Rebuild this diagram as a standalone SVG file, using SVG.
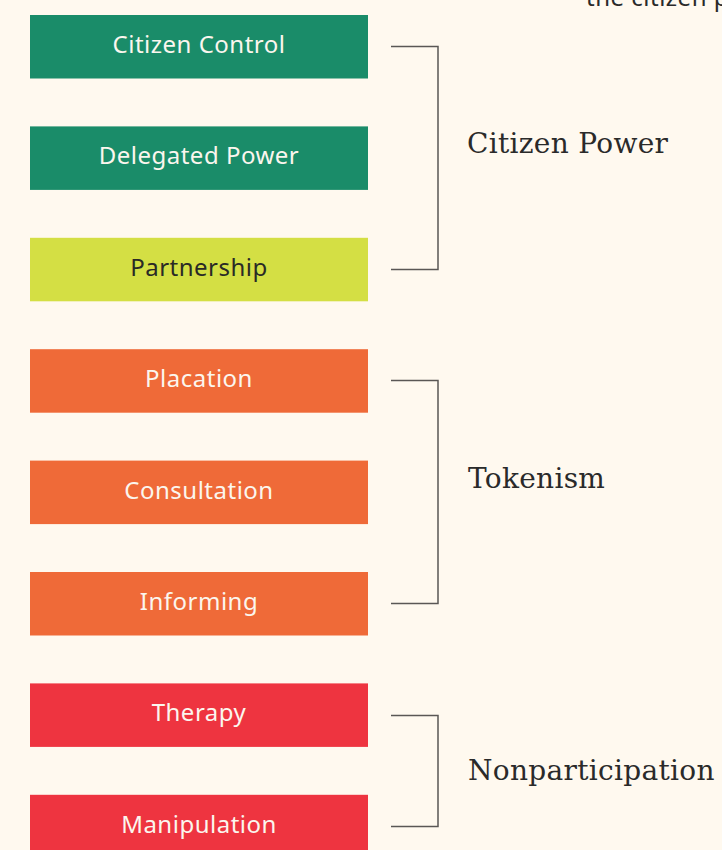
<svg xmlns="http://www.w3.org/2000/svg" width="722" height="850" viewBox="0 0 722 850">
  <style>
    .rung { font-family: "Noto Sans", "Liberation Sans", sans-serif; font-size: 24px; letter-spacing: 0.5px; text-anchor: middle; fill: #fbf6ee; }
    .rung.dark { fill: #2a2a26; }
    .group { font-family: "DejaVu Serif", "Liberation Serif", serif; font-size: 28px; letter-spacing: 0.3px; fill: #2a2a2a; }
    .bracket { fill: none; stroke: #5a5755; stroke-width: 1.5; }
    .lead { font-family: "Noto Sans", "Liberation Sans", sans-serif; font-size: 24px; letter-spacing: 0.5px; fill: #2a2a2a; }
  </style>
  <rect width="722" height="850" fill="#fff9ef"/>

  <!-- sentence running off the top edge -->
  <text class="lead" x="586" y="6">the citizen p</text>

  <!-- ladder rungs, top to bottom -->
  <g id="citizen-control">
    <rect x="30" y="15" width="338" height="63.5" fill="#1a8c69"/>
    <text class="rung" x="199" y="53">Citizen Control</text>
  </g>
  <g id="delegated-power">
    <rect x="30" y="126.4" width="338" height="63.5" fill="#1a8c69"/>
    <text class="rung" x="199" y="164.4">Delegated Power</text>
  </g>
  <g id="partnership">
    <rect x="30" y="237.8" width="338" height="63.5" fill="#d4df44"/>
    <text class="rung dark" x="199" y="275.8">Partnership</text>
  </g>
  <g id="placation">
    <rect x="30" y="349.2" width="338" height="63.5" fill="#ef6a38"/>
    <text class="rung" x="199" y="387.2">Placation</text>
  </g>
  <g id="consultation">
    <rect x="30" y="460.6" width="338" height="63.5" fill="#ef6a38"/>
    <text class="rung" x="199" y="498.6">Consultation</text>
  </g>
  <g id="informing">
    <rect x="30" y="572" width="338" height="63.5" fill="#ef6a38"/>
    <text class="rung" x="199" y="610">Informing</text>
  </g>
  <g id="therapy">
    <rect x="30" y="683.4" width="338" height="63.5" fill="#ee3440"/>
    <text class="rung" x="199" y="721.4">Therapy</text>
  </g>
  <g id="manipulation">
    <rect x="30" y="794.8" width="338" height="63.5" fill="#ee3440"/>
    <text class="rung" x="199" y="832.8">Manipulation</text>
  </g>

  <!-- brackets grouping the rungs -->
  <g id="connectors">
    <path class="bracket" d="M391 46.5 H438 V269.5 H391"/>
    <path class="bracket" d="M391 380.5 H438 V603.5 H391"/>
    <path class="bracket" d="M391 715.5 H438 V826.5 H391"/>
  </g>

  <!-- group labels -->
  <g id="citizen-power">
    <text class="group" x="467" y="153">Citizen Power</text>
  </g>
  <g id="tokenism">
    <text class="group" x="468" y="488">Tokenism</text>
  </g>
  <g id="nonparticipation">
    <text class="group" x="468" y="780">Nonparticipation</text>
  </g>
</svg>
